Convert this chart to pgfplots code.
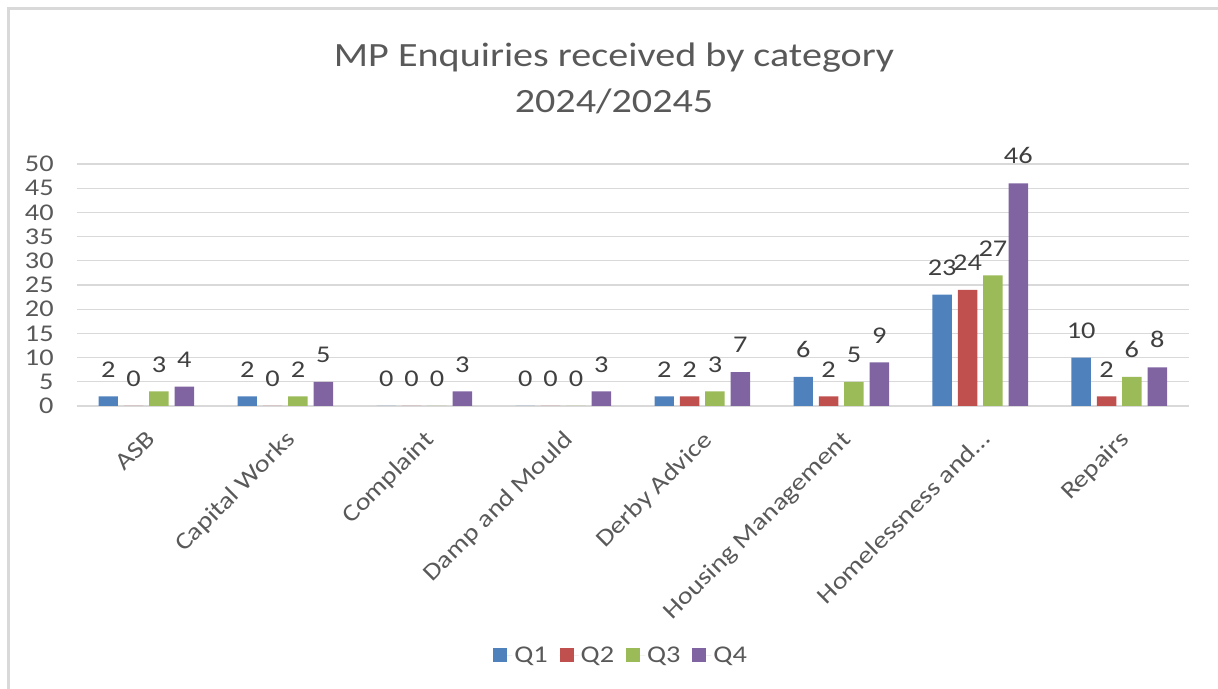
\documentclass[border=0pt]{standalone}
\usepackage{fontspec}
\setmainfont{Carlito}[FakeStretch=1.18]
\usepackage{pgfplots}
\pgfplotsset{compat=1.18}
\definecolor{qone}{RGB}{79,129,189}
\definecolor{qtwo}{RGB}{192,80,77}
\definecolor{qthree}{RGB}{155,187,89}
\definecolor{qfour}{RGB}{128,100,162}
\definecolor{gridc}{RGB}{217,217,217}
\definecolor{txt}{RGB}{89,89,89}
\definecolor{lbl}{RGB}{64,64,64}
\begin{document}
\begin{tikzpicture}[x=1bp,y=1bp]
\path[use as bounding box] (0,0) rectangle (1218,689);
\draw[gridc, line width=2.5bp] (8.5,0) -- (8.5,680.5) -- (1218,680.5);
\node[anchor=base, text=txt, font=\fontsize{34bp}{40bp}\selectfont, inner sep=0pt] at (614,622) {MP Enquiries received by category};
\node[anchor=base, text=txt, font=\fontsize{34bp}{40bp}\selectfont, inner sep=0pt] at (614,576) {2024/20245};
\begin{axis}[
  at={(76.8bp,283bp)}, anchor=south west,
  scale only axis, width=1112bp, height=242bp,
  ymin=0, ymax=50, ytick={0,5,...,50},
  xmin=-0.5, xmax=7.5, xtick={0,...,7},
  xticklabels={ASB, Capital Works, Complaint, Damp and Mould, Derby Advice, Housing Management, Homelessness and…, Repairs},
  axis x line*=bottom, axis y line*=left,
  x axis line style={gridc, line width=1.3bp, -},
  y axis line style={draw=none},
  major tick length=0pt,
  ymajorgrids, grid style={gridc, line width=1.3bp},
  /pgf/number format/assume math mode=true,
  tick label style={text=txt, font=\fontsize{24bp}{28bp}\selectfont},
  yticklabel style={anchor=east, inner sep=0pt, xshift=-23bp},
  xticklabel style={xshift=-1bp, yshift=-23bp, rotate=45, anchor=north east, inner sep=0pt},
  ybar, bar width=0.14,
  nodes near coords,
  nodes near coords style={anchor=south, inner sep=0pt, yshift=19bp, text=lbl, font=\fontsize{24bp}{28bp}\selectfont, /pgf/number format/assume math mode=true},
  legend style={at={(0.4895,-1.029)}, anchor=center, draw=none, legend columns=4,
    font=\fontsize{24bp}{28bp}\selectfont, text=txt,
    /tikz/every even column/.append style={column sep=10bp}},
  legend image code/.code={\fill[#1] (0bp,-7bp) rectangle (14bp,7bp); \path (0bp,0bp) -- (19bp,0bp);},
]
\addplot[fill=qone, draw=none, bar shift=-0.2736] coordinates {(0,2)(1,2)(2,0)(3,0)(4,2)(5,6)(6,23)(7,10)};
\addplot[fill=qtwo, draw=none, bar shift=-0.0912] coordinates {(0,0)(1,0)(2,0)(3,0)(4,2)(5,2)(6,24)(7,2)};
\addplot[fill=qthree, draw=none, bar shift=0.0912] coordinates {(0,3)(1,2)(2,0)(3,0)(4,3)(5,5)(6,27)(7,6)};
\addplot[fill=qfour, draw=none, bar shift=0.2736] coordinates {(0,4)(1,5)(2,3)(3,3)(4,7)(5,9)(6,46)(7,8)};
\legend{Q1,Q2,Q3,Q4}
\end{axis}
\end{tikzpicture}
\end{document}
